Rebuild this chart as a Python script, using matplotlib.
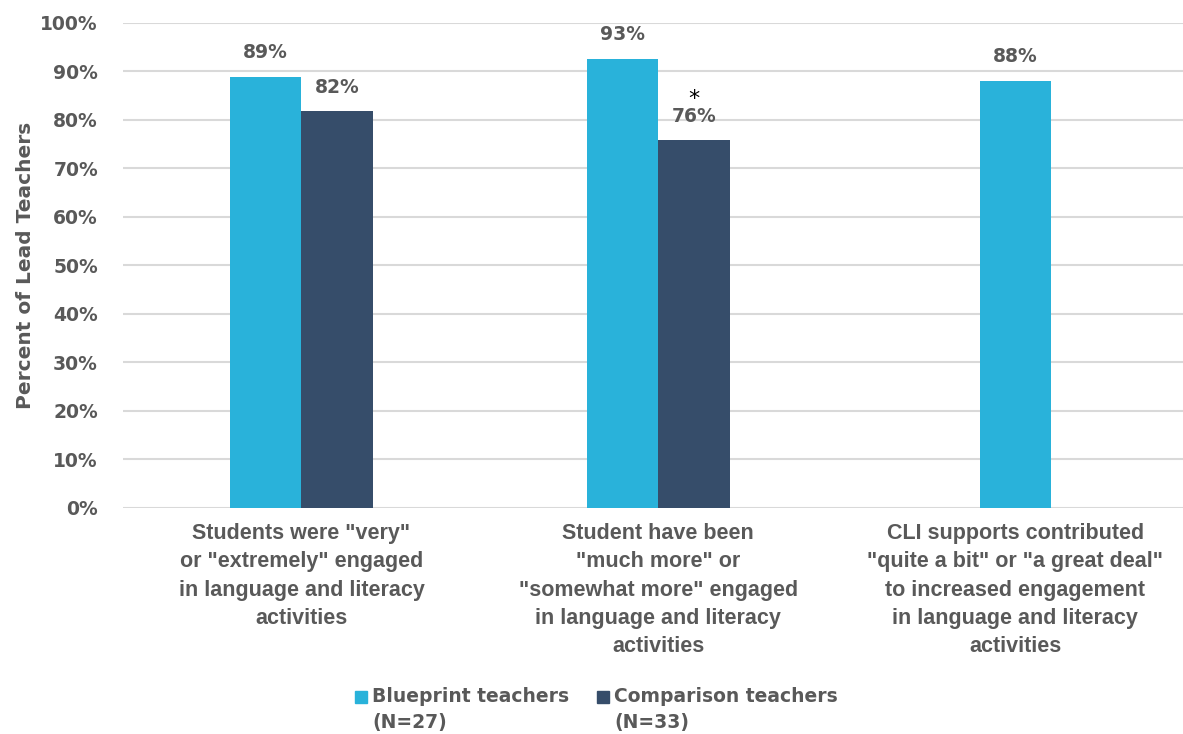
import numpy as np
import matplotlib.pyplot as plt
from matplotlib.patches import Rectangle

plt.rcParams['font.family'] = ['DejaVu Sans']

categories = [
    'Students were "very"\nor "extremely" engaged\nin language and literacy\nactivities',
    'Student have been\n"much more" or\n"somewhat more" engaged\nin language and literacy\nactivities',
    'CLI supports contributed\n"quite a bit" or "a great deal"\nto increased engagement\nin language and literacy\nactivities',
]
blueprint = [88.9, 92.6, 88.0]
comparison = [81.8, 75.8, None]
blueprint_labels = ['89%', '93%', '88%']
comparison_labels = ['82%', '76%', None]
significant = [False, True, False]
series_names = ['Blueprint teachers\n(N=27)', 'Comparison teachers\n(N=33)']

blue = '#29B2DA'
navy = '#364D6A'
grey_text = '#595959'

fig = plt.figure(figsize=(11.83, 7.34), dpi=100)
ax = fig.add_axes([0.104, 0.308, 0.896, 0.661])

w = 0.2
x = np.arange(len(categories))
for i in range(len(categories)):
    if comparison[i] is None:
        bx = x[i]
    else:
        bx = x[i] - w / 2
        ax.bar(x[i] + w / 2, comparison[i], width=w, color=navy, zorder=3)
        ax.text(x[i] + w / 2, comparison[i] + 3.0, comparison_labels[i], ha='center', va='bottom',
                fontsize=13.5, fontweight='bold', color=grey_text)
        if significant[i]:
            # asterisk marks a significant difference
            ax.text(x[i] + w / 2, comparison[i] + 8.5, '*', ha='center', va='center',
                    fontsize=16, color='black')
    ax.bar(bx, blueprint[i], width=w, color=blue, zorder=3)
    ax.text(bx, blueprint[i] + 3.0, blueprint_labels[i], ha='center', va='bottom',
            fontsize=13.5, fontweight='bold', color=grey_text)

ax.set_xlim(-0.5, 2.47)
ax.set_ylim(0, 100)
ax.set_yticks(np.arange(0, 101, 10))
ax.set_yticklabels([f'{v}%' for v in range(0, 101, 10)])
ax.set_xticks(x)
ax.set_xticklabels(categories, linespacing=1.45, family='Liberation Sans',
                   fontsize=15.5, fontweight='bold')
ax.tick_params(axis='y', length=0, labelsize=13.5, labelcolor=grey_text, pad=18)
ax.tick_params(axis='x', length=0, labelcolor=grey_text, pad=11)
for lab in ax.get_yticklabels():
    lab.set_fontweight('bold')
ax.yaxis.grid(True, color='#D9D9D9', linewidth=1.5, zorder=0)
for s in ax.spines.values():
    s.set_visible(False)
ax.set_ylabel('Percent of Lead Teachers', fontsize=14.5, fontweight='bold', color=grey_text, labelpad=4)

# legend drawn by hand so the square sits on the first text line
W, H = 1183, 734
for (px, color, name) in [(355, blue, series_names[0]), (597, navy, series_names[1])]:
    fig.patches.append(Rectangle((px / W, 1 - 703 / H), 12 / W, 12 / H,
                                 transform=fig.transFigure, color=color))
    fig.text((px + 17) / W, 1 - 687 / H, name, ha='left', va='top', fontsize=13.5,
             fontweight='bold', color=grey_text, linespacing=1.45)

fig.savefig('out.png', dpi=100)
